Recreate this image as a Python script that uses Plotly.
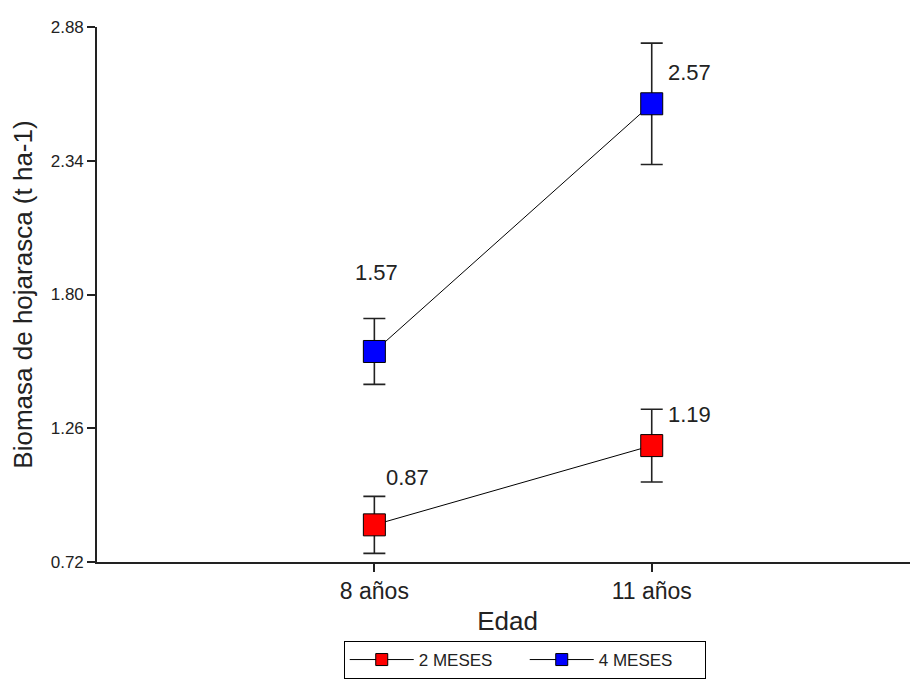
import plotly.graph_objects as go

# ---- data ----
edad = ["8 años", "11 años"]
meses2 = [0.87, 1.19]
err2 = [0.115, 0.147]
meses4 = [1.57, 2.57]
err4 = [0.133, 0.245]
y_ticks = [0.72, 1.26, 1.80, 2.34, 2.88]

FONT = "Liberation Sans, Arial, sans-serif"
INK = "#222222"

fig = go.Figure()

def add_series(name, vals, errs, color):
    fig.add_trace(go.Scatter(
        x=edad, y=vals, name=name, mode="lines+markers", showlegend=False,
        line=dict(color="black", width=1),
        marker=dict(symbol="square", size=22, color=color,
                    line=dict(color="black", width=1)),
        error_y=dict(type="data", array=errs, visible=True,
                     color=INK, thickness=1.6, width=11),
    ))
    # legend entry without error bars
    fig.add_trace(go.Scatter(
        x=[None], y=[None], name=name, mode="lines+markers", showlegend=True,
        line=dict(color="black", width=1),
        marker=dict(symbol="square", size=12, color=color,
                    line=dict(color="black", width=1)),
    ))

add_series("2 MESES", meses2, err2, "#FF0000")
add_series("4 MESES", meses4, err4, "#0000FF")

# value labels (offsets in pixels from each point)
label_offsets = {
    ("2 MESES", 0): (33, 47), ("2 MESES", 1): (38, 31),
    ("4 MESES", 0): (2, 79), ("4 MESES", 1): (38, 31),
}
for name, vals in (("2 MESES", meses2), ("4 MESES", meses4)):
    for i, v in enumerate(vals):
        dx, dy = label_offsets[(name, i)]
        fig.add_annotation(x=edad[i], y=v, text=f"{v:.2f}", showarrow=False,
                           xshift=dx, yshift=dy,
                           font=dict(family=FONT, size=22, color=INK))

fig.update_layout(
    width=910, height=671,
    margin=dict(l=89, r=0, t=19, b=116),
    paper_bgcolor="white", plot_bgcolor="white",
    font=dict(family=FONT, color=INK),
    showlegend=True,
    legend=dict(orientation="h", x=0.521, xanchor="center", y=-0.147, yanchor="top",
                bordercolor="black", borderwidth=1, font=dict(size=17, color=INK),
                itemwidth=64, entrywidth=101, bgcolor="white"),
)
fig.update_xaxes(
    type="category", categoryorder="array", categoryarray=edad,
    range=[-1.0, 1.96], showgrid=False, zeroline=False,
    showline=True, linecolor=INK, linewidth=1.6,
    ticks="outside", ticklen=8, tickcolor=INK, tickwidth=1.6,
    tickfont=dict(family=FONT, size=23, color=INK),
    title=dict(text="Edad", font=dict(family=FONT, size=26, color=INK), standoff=8),
)
fig.update_yaxes(
    range=[0.72, 2.88], tickvals=y_ticks, ticktext=[f"{t:.2f}" for t in y_ticks],
    showgrid=False, zeroline=False,
    showline=True, linecolor=INK, linewidth=1.6,
    ticks="outside", ticklen=8, tickcolor=INK, tickwidth=1.6,
    tickfont=dict(family=FONT, size=17, color=INK),
    title=dict(text="Biomasa de hojarasca (t ha-1)",
               font=dict(family=FONT, size=26, color=INK), standoff=12),
)

fig.write_html("out.html")
